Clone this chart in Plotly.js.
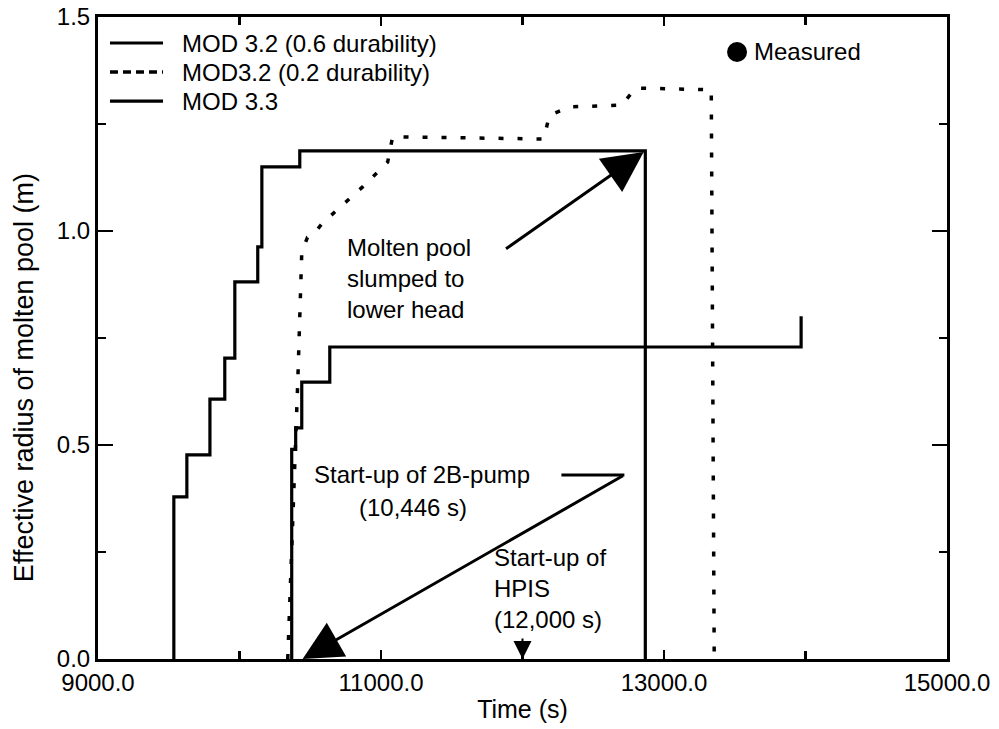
<!DOCTYPE html>
<html>
<head>
<meta charset="utf-8">
<script src="https://cdn.plot.ly/plotly-3.0.1.min.js"></script>
<style>
  html, body { margin: 0; padding: 0; background: #ffffff; }
  #chart { width: 999px; height: 729px; }
</style>
</head>
<body>
<div id="chart"></div>
<script>
// Effective radius of the molten pool (m) against time (s) for three code versions.
const mod32HighDurTime   = [9536, 9536, 9628, 9791, 9896, 9967, 10129, 10158, 10426, 12868];
const mod32HighDurRadius = [0, 0.379, 0.477, 0.607, 0.703, 0.881, 0.963, 1.150, 1.187, 0];

const mod32LowDurTime   = [10341, 10370, 10398, 10412, 10426, 10440, 10480, 10518, 10588, 10779, 10870, 11047, 11082, 12150, 12190, 12330, 12700, 12800, 13334, 13355];
const mod32LowDurRadius = [0, 0.25, 0.48, 0.65, 0.80, 0.95, 0.985, 0.991, 1.019, 1.077, 1.103, 1.161, 1.220, 1.215, 1.270, 1.290, 1.294, 1.334, 1.330, 0];

const mod33Time   = [10369, 10369, 10397, 10440, 10638, 13969];
const mod33Radius = [0, 0.49, 0.54, 0.647, 0.729, 0.801];

const seriesNames = ['MOD 3.2 (0.6 durability)', 'MOD3.2 (0.2 durability)', 'MOD 3.3'];
const measuredLabel = 'Measured';

// Event times named in the annotations (s)
const pumpStartTime = 10446;
const hpisStartTime = 12000;

const xTickVals = [9000, 11000, 13000, 15000];
const xMinorTickVals = [10000, 12000, 14000];
const yTickVals = [0, 0.5, 1.0, 1.5];
const yMinorTickVals = [0.25, 0.75, 1.25];

const FONT = 'Liberation Sans, Arial, Helvetica, sans-serif';
const INK = '#000000';
const dotted = '5px,14px';

const lineStyles = [
  { width: 3.2, dash: 'solid', shape: 'hv' },
  { width: 3.5, dash: dotted, shape: 'linear' },
  { width: 3.2, dash: 'solid', shape: 'hv' }
];
const seriesX = [mod32HighDurTime, mod32LowDurTime, mod33Time];
const seriesY = [mod32HighDurRadius, mod32LowDurRadius, mod33Radius];

const traces = seriesNames.map((name, i) => ({
  type: 'scatter',
  mode: 'lines',
  name: name,
  x: seriesX[i],
  y: seriesY[i],
  line: { color: INK, width: lineStyles[i].width, dash: lineStyles[i].dash, shape: lineStyles[i].shape },
  showlegend: false,
  hoverinfo: 'skip'
}));

// Key in the upper-left corner
const keyRowsY = [0.9595, 0.9143, 0.869];
const keyShapes = seriesNames.map((name, i) => ({
  type: 'line', xref: 'paper', yref: 'paper',
  x0: 0.0141, x1: 0.0766, y0: keyRowsY[i], y1: keyRowsY[i],
  line: { color: INK, width: lineStyles[i].width, dash: i === 1 ? '8px,5px' : 'solid' }
}));
const keyLabels = seriesNames.map((name, i) => ({
  xref: 'paper', yref: 'paper', x: 0.0966, y: keyRowsY[i],
  xanchor: 'left', yanchor: 'middle', showarrow: false,
  text: name, font: { family: FONT, size: 24, color: INK }
}));

// "Measured" key entry
const measuredShape = {
  type: 'circle', xref: 'paper', yref: 'paper',
  xsizemode: 'pixel', ysizemode: 'pixel',
  xanchor: 0.7527, yanchor: 0.9455,
  x0: -10, x1: 10, y0: -10, y1: 10,
  fillcolor: INK, line: { color: INK, width: 0 }
};
const measuredText = {
  xref: 'paper', yref: 'paper', x: 0.7703, y: 0.9455,
  xanchor: 'left', yanchor: 'middle', showarrow: false,
  text: measuredLabel, font: { family: FONT, size: 24, color: INK }
};

// Vertical axis title, placed as free text
const yTitle = {
  xref: 'paper', yref: 'paper', x: -0.087, y: 0.4377,
  xanchor: 'center', yanchor: 'middle', textangle: -90, showarrow: false,
  text: 'Effective radius of molten pool (m)',
  font: { family: FONT, size: 27, color: INK }
};

const slumpX = mod32HighDurTime[mod32HighDurTime.length - 1];
const slumpY = Math.max(...mod32HighDurRadius);
const fmtTime = t => t.toLocaleString('en-US');

const annotations = [
  ...keyLabels,
  measuredText,
  yTitle,
  {
    x: 10744, y: 0.888, xref: 'x', yref: 'y',
    xanchor: 'left', yanchor: 'middle', align: 'left', showarrow: false,
    text: 'Molten pool<br>slumped to<br>lower head',
    font: { family: FONT, size: 24, color: INK }
  },
  {
    x: slumpX, y: slumpY, ax: 11873, ay: 0.956, axref: 'x', ayref: 'y',
    xref: 'x', yref: 'y', text: '', showarrow: true,
    arrowhead: 2, arrowsize: 2.7, arrowwidth: 3, arrowcolor: INK, standoff: 2
  },
  {
    x: 10511, y: 0.43, xref: 'x', yref: 'y',
    xanchor: 'left', yanchor: 'middle', showarrow: false,
    text: 'Start-up of 2B-pump',
    font: { family: FONT, size: 24, color: INK }
  },
  {
    x: 10828, y: 0.353, xref: 'x', yref: 'y',
    xanchor: 'left', yanchor: 'middle', showarrow: false,
    text: '(' + fmtTime(pumpStartTime) + ' s)',
    font: { family: FONT, size: 24, color: INK }
  },
  {
    x: pumpStartTime, y: 0, ax: 12720, ay: 0.43, axref: 'x', ayref: 'y',
    xref: 'x', yref: 'y', text: '', showarrow: true,
    arrowhead: 2, arrowsize: 2.6, arrowwidth: 3, arrowcolor: INK
  },
  {
    x: 11781, y: 0.164, xref: 'x', yref: 'y',
    xanchor: 'left', yanchor: 'middle', align: 'left', showarrow: false,
    text: 'Start-up of<br>HPIS<br>(' + fmtTime(hpisStartTime) + ' s)',
    font: { family: FONT, size: 24, color: INK }
  },
  {
    x: hpisStartTime, y: 0, xref: 'x', yref: 'y', ax: 0, ay: -22,
    text: '', showarrow: true,
    arrowhead: 2, arrowsize: 1.8, arrowwidth: 2, arrowcolor: INK
  }
];

const shapes = [
  ...keyShapes,
  measuredShape,
  // leader from the 2B-pump label to its arrow
  {
    type: 'line', xref: 'x', yref: 'y',
    x0: 12275, x1: 12720, y0: 0.43, y1: 0.43,
    line: { color: INK, width: 3 }
  }
];

const axisCommon = {
  showline: true, linecolor: INK, linewidth: 3,
  mirror: 'ticks', ticks: 'inside', tickcolor: INK, tickwidth: 2.5,
  showgrid: false, zeroline: false,
  tickformat: '.1f',
  tickfont: { family: FONT, size: 24, color: INK }
};

const layout = {
  width: 999, height: 729,
  paper_bgcolor: '#ffffff', plot_bgcolor: '#ffffff',
  margin: { l: 98, r: 52, t: 17, b: 70 },
  showlegend: false,
  xaxis: Object.assign({}, axisCommon, {
    range: [9000, 15000],
    tickmode: 'array', tickvals: xTickVals,
    ticklen: 9,
    minor: { tickmode: 'array', tickvals: xMinorTickVals, ticks: 'inside', ticklen: 8, tickwidth: 2.5, tickcolor: INK, showgrid: false },
    title: { text: 'Time (s)', font: { family: FONT, size: 25, color: INK }, standoff: 6 }
  }),
  yaxis: Object.assign({}, axisCommon, {
    range: [0, 1.5],
    tickmode: 'array', tickvals: yTickVals,
    ticklen: 15,
    minor: { tickmode: 'array', tickvals: yMinorTickVals, ticks: 'inside', ticklen: 8, tickwidth: 2.5, tickcolor: INK, showgrid: false }
  }),
  annotations: annotations,
  shapes: shapes
};

Plotly.newPlot('chart', traces, layout, { displayModeBar: false, staticPlot: true });
</script>
</body>
</html>
